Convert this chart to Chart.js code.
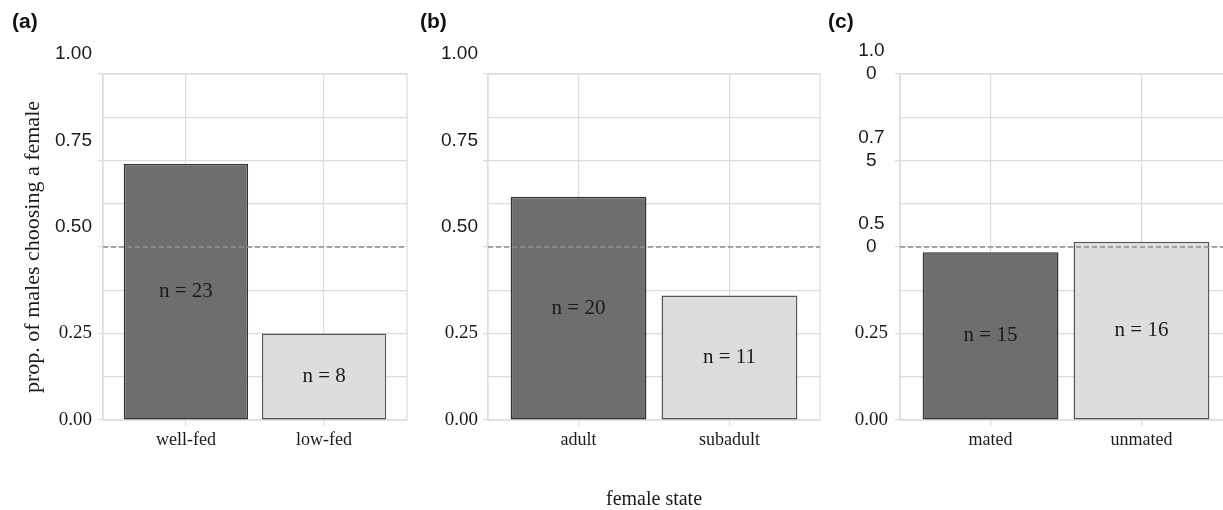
<!DOCTYPE html>
<html>
<head>
<meta charset="utf-8">
<script src="https://cdn.jsdelivr.net/npm/chart.js@4.4.1/dist/chart.umd.min.js"></script>
<style>
    html, body { margin: 0; padding: 0; background: #fff; overflow: hidden; width: 1223px; height: 510px; }
    canvas { position: absolute; top: 0; }
</style>
</head>
<body>
<canvas id="panelA" width="410" height="510" style="left:0px"></canvas>
<canvas id="panelB" width="403" height="510" style="left:420px"></canvas>
<canvas id="panelC" width="407" height="510" style="left:828px"></canvas>
<script>
// (a) feeding state
const catsA = ['well-fed', 'low-fed'];
const propA = [0.74, 0.25];
const nA = [23, 8];

// (b) age
const catsB = ['adult', 'subadult'];
const propB = [0.645, 0.36];
const nB = [20, 11];

// (c) mating status
const catsC = ['mated', 'unmated'];
const propC = [0.485, 0.515];
const nC = [15, 16];

const chanceLevel = 0.5;
const majorTicks = [0, 0.25, 0.5, 0.75, 1];
const tickLabelsAB = ['0.00', '0.25', '0.50', '0.75', '1.00'];
const tickLabelsC = ['0.00', '0.25', '0.5\n0', '0.7\n5', '1.0\n0'];

const SANS = "'Liberation Sans', Arial, sans-serif";
const SERIF = "'Liberation Serif', 'Times New Roman', serif";
const INK = '#1a1a1a';
const GRID = '#dcdcdc';
const X_MIN = 0.4, X_MAX = 2.6;

// light frame round the plot area
const frame = {
    id: 'frame',
    beforeDatasetsDraw(chart) {
        const { ctx, chartArea: a } = chart;
        ctx.save();
        ctx.strokeStyle = GRID;
        ctx.lineWidth = 1.2;
        ctx.strokeRect(a.left, a.top, a.right - a.left, a.bottom - a.top);
        ctx.restore();
    }
};

// "n = .." written in the middle of each bar
const nLabels = {
    id: 'nLabels',
    afterDatasetsDraw(chart, args, opts) {
        const meta = chart.getDatasetMeta(1);
        const c = chart.ctx;
        c.save();
        c.font = '21px ' + SERIF;
        c.fillStyle = INK;
        c.textAlign = 'center';
        c.textBaseline = 'middle';
        meta.data.forEach((bar, i) => {
            c.fillText('n = ' + opts.ns[i], bar.x, (bar.y + bar.base) / 2);
        });
        c.restore();
    }
};

function makePanel(id, cfg) {
    return new Chart(document.getElementById(id), {
        type: 'bar',
        data: {
            datasets: [{
                type: 'line',
                data: [{ x: X_MIN, y: chanceLevel }, { x: X_MAX, y: chanceLevel }],
                borderColor: '#8e8e8e',
                borderWidth: 1.3,
                borderDash: [5, 3],
                pointRadius: 0,
                order: -1
            }, {
                type: 'bar',
                data: cfg.vals.map((v, i) => ({ x: i + 1, y: v })),
                backgroundColor: ['#6d6e70', '#dcdddf'],
                borderColor: ['#333333', '#555555'],
                borderWidth: 1.5,
                borderSkipped: false,
                barPercentage: 0.9,
                categoryPercentage: 1
            }]
        },
        options: {
            responsive: false,
            animation: false,
            layout: { padding: { left: cfg.padLeft, right: 3, top: 10, bottom: 0 } },
            plugins: {
                legend: { display: false },
                tooltip: { enabled: false },
                title: {
                    display: true,
                    text: cfg.tag,
                    align: 'start',
                    color: '#111',
                    font: { family: SANS, size: 21, weight: 'bold', lineHeight: 1.2 },
                    padding: { top: 0, bottom: 38.8 }
                },
                nLabels: { ns: cfg.ns }
            },
            scales: {
                x: {
                    type: 'linear',
                    min: X_MIN,
                    max: X_MAX,
                    offset: false,
                    afterBuildTicks: s => { s.ticks = cfg.cats.map((c, i) => ({ value: i + 1 })); },
                    afterFit: s => { s.height = 90; },
                    grid: { offset: false, color: GRID, lineWidth: 1.2, tickLength: 6, tickColor: GRID },
                    border: { color: GRID, width: 1.2 },
                    ticks: {
                        autoSkip: false,
                        maxRotation: 0,
                        padding: 3,
                        color: INK,
                        font: { family: SERIF, size: 18 },
                        callback: v => cfg.cats[v - 1]
                    },
                    title: {
                        display: !!cfg.xTitle,
                        text: cfg.xTitle || '',
                        color: INK,
                        font: { family: SERIF, size: 20, lineHeight: 1 },
                        padding: { top: 0, bottom: 0 }
                    }
                },
                y: {
                    min: 0,
                    max: 1,
                    afterFit: s => { s.width = cfg.axisWidth; },
                    grid: {
                        color: GRID,
                        lineWidth: 1.2,
                        tickLength: 5,
                        tickColor: ctx => (ctx.tick && majorTicks.includes(ctx.tick.value)) ? GRID : 'rgba(0,0,0,0)'
                    },
                    border: { color: GRID, width: 1.2 },
                    ticks: {
                        stepSize: 0.125,
                        autoSkip: false,
                        padding: cfg.labelPad,
                        crossAlign: cfg.crossAlign,
                        color: INK,
                        font: ctx => {
                            const v = ctx.tick ? ctx.tick.value : 0;
                            return v >= 0.5
                                ? { family: SANS, size: 19, lineHeight: cfg.lineH / 19 }
                                : { family: SERIF, size: 19 };
                        },
                        callback: v => {
                            const k = majorTicks.indexOf(v);
                            if (k < 0) return '';
                            const lines = cfg.tickLabels[k].split('\n');
                            if (k < 2) return lines[0];
                            while (lines.length < 3) lines.push('');
                            return lines;
                        }
                    },
                    title: {
                        display: !!cfg.yTitle,
                        text: cfg.yTitle || '',
                        color: INK,
                        font: { family: SERIF, size: 22 },
                        padding: { top: 8, bottom: 0 }
                    }
                }
            }
        },
        plugins: [frame, nLabels]
    });
}

makePanel('panelA', {
    tag: '(a)', cats: catsA, vals: propA, ns: nA, tickLabels: tickLabelsAB,
    padLeft: 12, axisWidth: 91, labelPad: 6, crossAlign: 'near', lineH: 20,
    yTitle: 'prop. of males choosing a female'
});
makePanel('panelB', {
    tag: '(b)', cats: catsB, vals: propB, ns: nB, tickLabels: tickLabelsAB,
    padLeft: 0, axisWidth: 68, labelPad: 5, crossAlign: 'near', lineH: 20,
    xTitle: 'female state'
});
makePanel('panelC', {
    tag: '(c)', cats: catsC, vals: propC, ns: nC, tickLabels: tickLabelsC,
    padLeft: 0, axisWidth: 72, labelPad: 7, crossAlign: 'center', lineH: 23
});
</script>
</body>
</html>
